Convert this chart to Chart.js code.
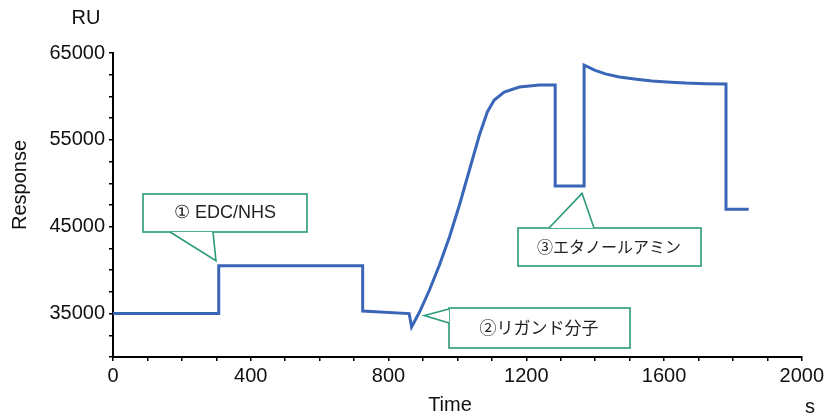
<!DOCTYPE html>
<html>
<head>
<meta charset="utf-8">
<script src="https://cdn.jsdelivr.net/npm/chart.js@4"></script>
<style>
  html, body { margin: 0; padding: 0; background: #fff; }
  #wrap { width: 827px; height: 416px; position: relative; }
</style>
</head>
<body>
<div id="wrap"><canvas id="sensorgram"></canvas></div>
<script>
// sensorgram: time (s) vs response (RU)
const times = [0, 307, 307, 725, 725, 860, 867, 890, 919, 948, 977, 1006, 1035, 1064, 1087, 1107, 1136, 1180, 1238, 1284,
  1284, 1368, 1368, 1400, 1430, 1470, 1520, 1565, 1620, 1664, 1720, 1780, 1780, 1846];
const response = [35000, 35000, 40500, 40500, 35300, 35000, 33450, 35180, 37710, 40590, 43820, 47500, 51530, 55560, 58210, 59590, 60510, 61090, 61310, 61310,
  49700, 49700, 63600, 63000, 62600, 62230, 61980, 61770, 61640, 61540, 61470, 61430, 47000, 47000];

const xTicks = [0, 400, 800, 1200, 1600, 2000];
const yTicks = [35000, 45000, 55000, 65000];

const steps = ['① EDC/NHS', '②リガンド分子', '③エタノールアミン'];
const stepTime = [299, 904, 1362];
const stepResp = [41100, 34770, 48840];

const green = '#2a9a7a';
const font = '"Liberation Sans", Arial, sans-serif';
const jpFont = '"Noto Sans CJK JP", sans-serif';

const calloutPlugin = {
  id: 'callouts',
  afterDraw(chart) {
    const ctx = chart.ctx;
    const xs = chart.scales.x, ys = chart.scales.y;
    const tip = i => [xs.getPixelForValue(stepTime[i]), ys.getPixelForValue(stepResp[i])];
    // box rects and pointer bases, in px
    const boxes = [
      { r: [143, 194, 164, 38], base: [[170, 232], [213, 232]], tx: 225, ty: 213, f: '18px ' + font },
      { r: [449, 308, 181, 40], base: [[449, 309], [449, 323]], tx: 539, ty: 328, f: '17px ' + jpFont },
      { r: [518, 228, 183, 38], base: [[549, 228], [594, 228]], tx: 609, ty: 247, f: '16px ' + jpFont }
    ];
    ctx.save();
    boxes.forEach((b, i) => {
      const [x, y, w, h] = b.r;
      const [px, py] = tip(i);
      ctx.fillStyle = '#fff';
      ctx.fillRect(x, y, w, h);
      ctx.strokeStyle = green;
      ctx.lineWidth = 1.6;
      ctx.strokeRect(x, y, w, h);
      // pointer
      ctx.beginPath();
      ctx.moveTo(b.base[0][0], b.base[0][1]);
      ctx.lineTo(px, py);
      ctx.lineTo(b.base[1][0], b.base[1][1]);
      ctx.closePath();
      ctx.fill();
      ctx.beginPath();
      ctx.moveTo(b.base[0][0], b.base[0][1]);
      ctx.lineTo(px, py);
      ctx.lineTo(b.base[1][0], b.base[1][1]);
      ctx.stroke();
      ctx.fillStyle = '#222';
      ctx.font = b.f;
      ctx.textAlign = 'center';
      ctx.textBaseline = 'middle';
      ctx.fillText(steps[i], b.tx, b.ty);
    });
    // axis titles
    ctx.fillStyle = '#111';
    ctx.font = '20px ' + font;
    ctx.textAlign = 'center';
    ctx.textBaseline = 'middle';
    ctx.fillText('RU', 86, 18);
    ctx.fillText('Time', 450, 405);
    ctx.fillText('s', 810, 407);
    ctx.translate(20, 185);
    ctx.rotate(-Math.PI / 2);
    ctx.fillText('Response', 0, 0);
    ctx.restore();
  }
};

new Chart(document.getElementById('sensorgram'), {
  type: 'line',
  data: {
    datasets: [{
      data: times.map((t, i) => ({ x: t, y: response[i] })),
      borderColor: '#3a66b8',
      borderWidth: 3,
      pointRadius: 0,
      tension: 0,
      fill: false
    }]
  },
  options: {
    responsive: true,
    maintainAspectRatio: false,
    animation: false,
    layout: { padding: { top: 53, left: 0, right: 24, bottom: 0 } },
    plugins: { legend: { display: false }, tooltip: { enabled: false } },
    scales: {
      x: {
        type: 'linear',
        min: 0,
        max: 2000,
        afterFit: s => { s.height = 59; },
        afterBuildTicks: s => { s.ticks = Array.from({ length: 21 }, (_, i) => ({ value: i * 100 })); },
        ticks: {
          autoSkip: false,
          maxRotation: 0,
          padding: 3,
          color: '#111',
          font: { family: font, size: 20 },
          callback: v => xTicks.includes(v) ? String(v) : ''
        },
        grid: { drawOnChartArea: false, tickLength: 4, color: '#000', lineWidth: 1.5 },
        border: { color: '#000', width: 2 }
      },
      y: {
        min: 30000,
        max: 65000,
        afterFit: s => { s.width = 113; },
        afterBuildTicks: s => { s.ticks = Array.from({ length: 15 }, (_, i) => ({ value: 30000 + i * 2500 })); },
        ticks: {
          autoSkip: false,
          padding: 4,
          color: '#111',
          font: { family: font, size: 20 },
          callback: v => yTicks.includes(v) ? String(v) : ''
        },
        grid: { drawOnChartArea: false, tickLength: 4, color: '#000', lineWidth: 1.5 },
        border: { color: '#000', width: 2 }
      }
    }
  },
  plugins: [calloutPlugin]
});
</script>
</body>
</html>
